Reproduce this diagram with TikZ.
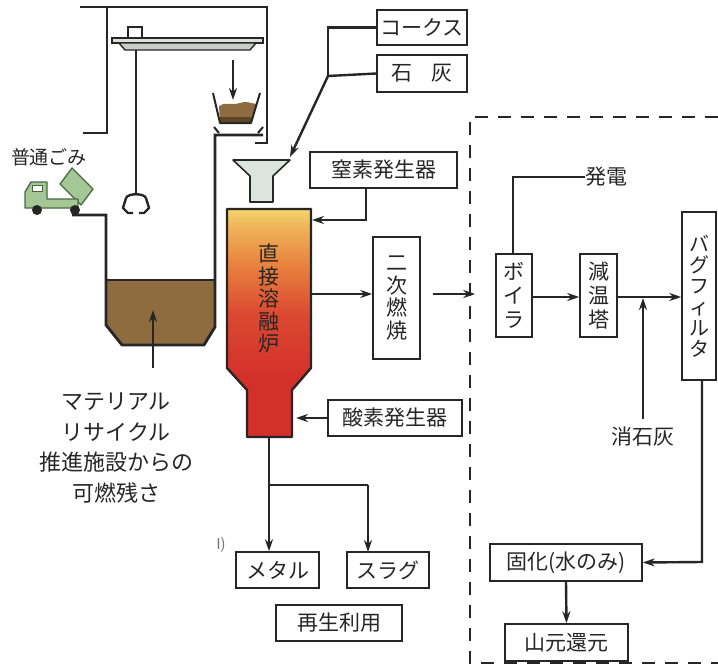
\documentclass[tikz,border=0pt]{standalone}
\usepackage{fontspec}
\setmainfont{Noto Sans CJK JP}
\usetikzlibrary{arrows.meta,calc}

\definecolor{ink}{HTML}{262626}
\definecolor{garbage}{HTML}{8E6C3F}
\definecolor{garbagedark}{HTML}{5E4526}
\definecolor{hopperfill}{HTML}{DCE5DD}
\definecolor{truckgreen}{HTML}{A3C795}
\definecolor{truckline}{HTML}{4A6742}
\definecolor{cranegray}{HTML}{C9CCC8}
\definecolor{fyellow}{HTML}{F3D46A}
\definecolor{forange}{HTML}{E9833F}
\definecolor{fred}{HTML}{D4302A}

% furnace colour: red at the bottom rising to yellow at the top
\pgfdeclareverticalshading{furnaceshade}{100bp}{%
  color(0bp)=(fred); color(38bp)=(fred); color(52bp)=(fred!70!forange);
  color(63bp)=(forange); color(71bp)=(fyellow!60!forange); color(75bp)=(fyellow);
  color(100bp)=(fyellow)}

\newcommand\lblfont{\fontsize{21}{24}\selectfont}
\newcommand\vfont{\fontsize{21}{24}\selectfont}

\tikzset{
  box/.style={draw=ink, line width=1.5pt, fill=white, inner sep=0pt, text=ink, font=\lblfont},
  vbox/.style={box, align=center, font=\vfont},
  flow/.style={draw=ink, line width=2.4pt, -{Stealth[length=12pt,width=8pt]}},
  wire/.style={draw=ink, line width=2.4pt},
  wall/.style={draw=ink, line width=2.8pt},
  fence/.style={draw=ink, line width=2.4pt, dash pattern=on 13pt off 10pt},
  plain/.style={text=ink, inner sep=0pt}
}

\begin{document}
\begin{tikzpicture}[x=1pt,y=-1pt]
\useasboundingbox (0,0) rectangle (718,669);

% ---------- receiving building ----------
\draw[wall] (80,7) -- (267,7) -- (267,143) -- (255,143);
\draw[wall] (107,7) -- (107,133) -- (83,133);

% overhead crane
\draw[ink, line width=1.4pt, fill=white] (128,27) rectangle (142,38);
\draw[ink, line width=1.4pt, fill=cranegray!60] (112,38) rectangle (263,43);
\draw[ink, line width=1.4pt, fill=cranegray] (119,43) -- (256,43) -- (250,50) -- (125,50) -- cycle;
\draw[ink, line width=1.8pt] (136,50) -- (136,193);
% grab
\draw[ink, line width=2.4pt, line join=round]
  (126,198) .. controls (128,193) and (144,193) .. (146,198);
\draw[ink, line width=2.4pt, line join=round] (126,198) -- (123,208) -- (128,213) -- (133,213);
\draw[ink, line width=2.4pt, line join=round] (146,198) -- (149,208) -- (144,213) -- (139,213);

% feed bucket
\draw[flow] (233,60) -- (233,100);
\fill[garbage] (219,106) .. controls (227,101) and (234,106) .. (240,103)
  .. controls (246,100) and (252,104) .. (257,104) -- (251,122) -- (220,122) -- cycle;
\fill[garbagedark] (220,117) rectangle (251,123);
\draw[ink, line width=2pt, line join=round] (213,93) -- (220,123) -- (251,123) -- (260,93);
\draw[ink, line width=2pt] (214,127) -- (219,133);
\draw[ink, line width=2pt] (263,127) -- (258,133);

% refuse pit
\fill[garbage] (106,280) -- (215,280) -- (215,327) -- (204,345) -- (122,345) -- (106,325) -- cycle;
\draw[ink, line width=1.8pt] (106,280) -- (215,280);
\draw[wall] (72,215) -- (106,215) -- (106,325) -- (122,345) -- (204,345) -- (215,327) -- (215,135) -- (263,135);
\draw[flow] (153,368) -- (153,310);

% truck
\draw[truckline, line width=1.3pt, fill=truckgreen, line join=round]
  (60,184) -- (72,168) -- (93,189) -- (81,205) -- cycle;
\draw[truckline, line width=1.3pt, fill=truckgreen, line join=round]
  (25,208) -- (25,192) -- (31,182) -- (47,182) -- (47,199) -- (78,199) -- (78,208) -- cycle;
\draw[truckline, line width=1pt, fill=white] (32,185) rectangle (42,191);
\fill[ink] (37,210) circle (5pt);
\fill[ink] (75,210) circle (5pt);
\node[plain, font=\fontsize{19}{20}\selectfont] (futsu) at (49,157) {普通ごみ};

% material recycling residue
\node[plain, align=center, font=\fontsize{22}{30.5}\selectfont] (resid) at (116,448)
  {マテリアル\\リサイクル\\推進施設からの\\可燃残さ};

% ---------- charging hopper and additives ----------
\draw[ink, line width=1.6pt, fill=hopperfill, line join=round]
  (233,160) -- (290,160) -- (273,176) -- (273,202) -- (250,202) -- (250,176) -- cycle;
\coordinate (hopin) at (290,157);

\node[box, minimum width=90pt, minimum height=35pt] (coke) at (422,27.5) {コークス};
\node[box, minimum width=90pt, minimum height=37pt] (lime) at (422,73.5) {石\hspace{0.9em}灰};
\coordinate (join) at (328,76);
\draw[wire] (coke.west) -- (coke.west -| join) -- (join);
\draw[wire] (lime.west) -- (join);
\draw[flow] (join) -- (hopin);

% ---------- melting furnace ----------
\shade[shading=furnaceshade]
  (227,209) -- (311,209) -- (311,368) -- (292,390) -- (292,437) -- (247,437) -- (247,390) -- (227,368) -- cycle;
\draw[draw=ink, line width=2.4pt, line join=round]
  (227,209) -- (311,209) -- (311,368) -- (292,390) -- (292,437) -- (247,437) -- (247,390) -- (227,368) -- cycle;
\node[plain, align=center, text=black!85, font=\fontsize{21}{22.5}\selectfont] (furnlbl) at (269,299)
  {直\\接\\溶\\融\\炉};
\coordinate (furnN2) at (312,220);
\coordinate (furnOut) at (311,294);
\coordinate (furnO2) at (296,418);
\coordinate (furnTap) at (269,437);

\node[box, minimum width=147pt, minimum height=36pt] (nitro) at (383.5,170) {窒素発生器};
\draw[flow] (nitro.south -| 366,0) -- (366,220) -- (furnN2);

\node[box, minimum width=134pt, minimum height=36pt] (oxy) at (395,418) {酸素発生器};
\draw[flow] (oxy.west) -- (furnO2);

\node[vbox, minimum width=47pt, minimum height=122pt, font=\fontsize{21}{22.5}\selectfont]
  (second) at (396.5,298) {二\\次\\燃\\焼};
\draw[flow] (furnOut) -- (furnOut -| second.west);

% ---------- slag and metal ----------
\node[box, minimum width=83pt, minimum height=36pt] (metal) at (277.5,570) {メタル};
\node[box, minimum width=82pt, minimum height=36pt] (slag) at (388,570) {スラグ};
\node[box, minimum width=126pt, minimum height=36pt] (reuse) at (339,623) {再生利用};
\coordinate (split) at (269,485);
\draw[flow] (furnTap) -- (furnTap |- metal.north);
\draw[wire] (split) -- (368,485);
\draw[flow] (368,485) -- (368,552);
\node[plain, text=black!55, font=\fontsize{15}{16}\selectfont] (frag) at (221,545) {I)};

% ---------- gas treatment (existing plant) ----------
\draw[fence] (718,117) -- (470,117) -- (470,663) -- (718,663);

\node[vbox, minimum width=36pt, minimum height=83pt] (boiler) at (514,295.5) {ボ\\イ\\ラ};
\node[vbox, minimum width=37pt, minimum height=83pt] (cooler) at (598.5,295.5) {減\\温\\塔};
\node[vbox, minimum width=34pt, minimum height=168pt, font=\fontsize{20}{21}\selectfont]
  (bagf) at (699,296) {バ\\グ\\フ\\ィ\\ル\\タ};

\draw[flow, shorten <=12pt, shorten >=20pt] (second.east |- furnOut) -- (furnOut -| boiler.west);

\node[plain, anchor=west, font=\lblfont] (power) at (585,177) {発電};
\draw[wire] (boiler.north -| 513,0) -- (513,177) -- (power.west);

\draw[flow] (boiler.east |- 0,297) -- (cooler.west |- 0,297);
\draw[flow] (cooler.east |- 0,297) -- (bagf.west |- 0,297);

\node[plain, font=\lblfont] (slaked) at (643,437) {消石灰};
\draw[flow] (slaked.north -| 643,0) ++(0,-8) -- (643,298);

\node[box, minimum width=152pt, minimum height=37pt] (solid) at (566,562.5) {固化(水のみ)};
\node[box, minimum width=123pt, minimum height=37pt] (mine) at (566.5,642.5) {山元還元};
\draw[flow] (bagf.south -| 702,0) -- (702,562) -- (solid.east);
\draw[flow] (solid.south) -- (mine.north);

\end{tikzpicture}
\end{document}
